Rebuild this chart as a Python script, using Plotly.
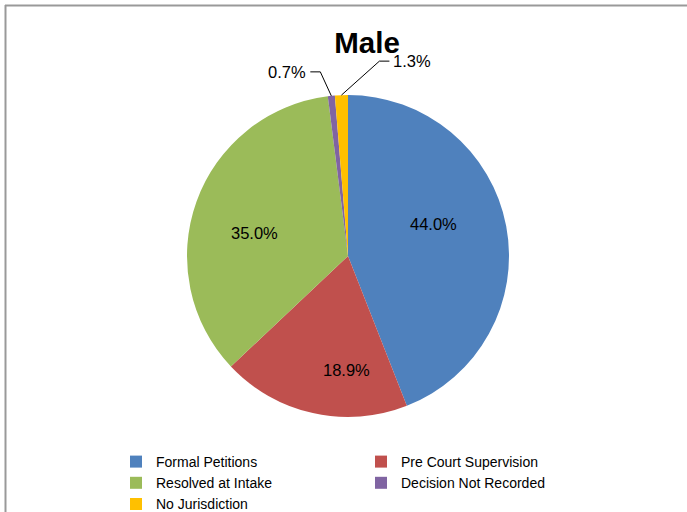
import math
import plotly.graph_objects as go

# ---- data ----
categories = ["Formal Petitions", "Pre Court Supervision", "Resolved at Intake",
              "Decision Not Recorded", "No Jurisdiction"]
values = [44.0, 18.9, 35.0, 0.7, 1.3]
colors = ["#4F81BD", "#C0504D", "#9BBB59", "#8064A2", "#FFC000"]
title_text = "Male"

W, H = 687, 512
# pie geometry in pixels
cx, cy, r = 348, 256, 161

def px(x):
    return x / W

def py(y):
    return 1 - y / H

fig = go.Figure(go.Pie(
    labels=categories,
    values=values,
    sort=False,
    direction="clockwise",
    rotation=0,
    marker=dict(colors=colors, line=dict(width=0)),
    textinfo="none",
    hoverinfo="label+percent",
    domain=dict(x=[px(cx - r), px(cx + r)], y=[py(cy + r), py(cy - r)]),
))

label_font = dict(family="Liberation Sans, Arial", size=16.5, color="black")
# label placement style per slice: inside -> (angle shift deg, radial fraction);
# outside -> (elbow dx, elbow dy, horizontal run)
inside_style = {0: (-10, 0.565), 1: (-12, 0.71), 2: (-6, 0.6)}
outside_style = {3: (-11, -24, -10), 4: (38, -34, 10)}

total = sum(values)
cum = 0.0
shapes = []
annotations = []
for i, v in enumerate(values):
    mid = (cum + v / 2) / total
    cum += v
    ang = 2 * math.pi * mid
    txt = f"{v:.1f}%"
    if i in inside_style:
        dang, frac = inside_style[i]
        a = ang + math.radians(dang)
        lx = cx + r * frac * math.sin(a)
        ly = cy - r * frac * math.cos(a)
        annotations.append(dict(x=px(lx), y=py(ly), xref="paper", yref="paper",
                                text=txt, showarrow=False, xanchor="center",
                                yanchor="middle", font=label_font))
        continue
    ex = cx + r * math.sin(ang)
    ey = cy - r * math.cos(ang)
    dxe, dye, run = outside_style[i]
    bx, by = ex + dxe, ey + dye
    hx = bx + run
    shapes.append(dict(
        type="path", xref="paper", yref="paper",
        path=f"M {px(ex)},{py(ey)} L {px(bx)},{py(by)} L {px(hx)},{py(by)}",
        line=dict(color="black", width=1),
    ))
    annotations.append(dict(
        x=px(hx + (-2 if run < 0 else 2)), y=py(by), xref="paper", yref="paper",
        text=txt, showarrow=False,
        xanchor="right" if run < 0 else "left", yanchor="middle",
        font=label_font,
    ))

# outer frame (top and left edges visible; the rest lies outside the picture)
frame = dict(color="#999999", width=2)
shapes.append(dict(type="line", xref="paper", yref="paper",
                   x0=px(5), y0=py(5.5), x1=1.0, y1=py(5.5), line=frame))
shapes.append(dict(type="line", xref="paper", yref="paper",
                   x0=px(5.5), y0=py(5), x1=px(5.5), y1=0.0, line=frame))

fig.update_layout(
    width=W, height=H,
    margin=dict(l=0, r=0, t=0, b=0, autoexpand=False),
    paper_bgcolor="white",
    title=dict(text=f"<b>{title_text}</b>", x=px(367), y=py(43),
               xanchor="center", yanchor="middle", xref="paper", yref="paper",
               font=dict(family="Liberation Sans, Arial", size=29.5, color="black")),
    showlegend=True,
    legend=dict(orientation="h", x=px(116), y=py(446), xanchor="left", yanchor="top",
                entrywidth=200, entrywidthmode="pixels",
                font=dict(family="Liberation Sans, Arial", size=14, color="black"),
                bgcolor="rgba(0,0,0,0)", itemclick=False),
    shapes=shapes,
    annotations=annotations,
)

fig.write_html("out.html", config={"displayModeBar": False},
               post_script="document.body.style.margin='0px';")
